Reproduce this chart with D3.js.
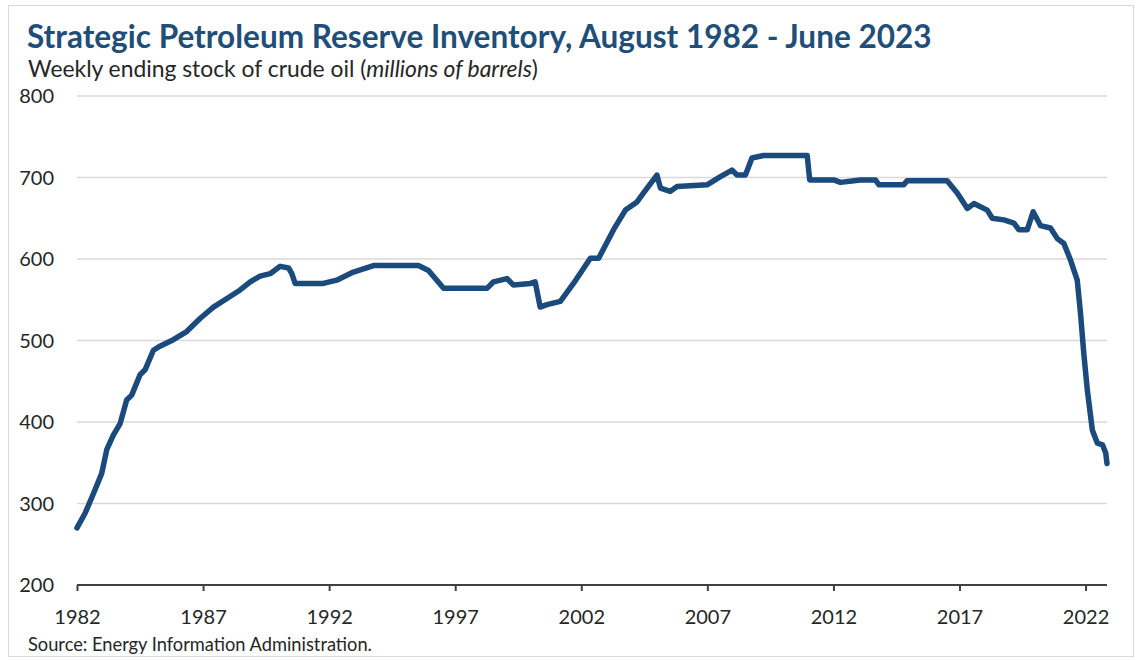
<!DOCTYPE html>
<html lang="en">
<head>
    <meta charset="UTF-8">
    <title>Strategic Petroleum Reserve Inventory</title>
    <script src="https://d3js.org/d3.v7.min.js"></script>
    <style>
        body { margin: 0; background: #fff; font-family: Lato, "Open Sans", sans-serif; }
        .grid line { stroke: #d9d9d9; stroke-width: 1.5; }
        .xaxis path, .xaxis line { stroke: #404040; stroke-width: 2; }
        .xaxis text, .ylab { fill: #262626; font-size: 20px; }
    </style>
</head>
<body>

<div id="chart"></div>

<script>
// decimal year of each reading
var years = [1982.60, 1982.92, 1983.25, 1983.58, 1983.78, 1984.04, 1984.31, 1984.57, 1984.77, 1985.10,
    1985.30, 1985.63, 1985.89, 1986.42, 1986.95, 1987.48, 1988.01, 1988.67, 1989.07, 1989.47,
    1989.86, 1990.26, 1990.66, 1990.99, 1991.12, 1991.25, 1992.37, 1992.90, 1993.56, 1994.36,
    1996.14, 1996.54, 1997.14, 1998.86, 1999.12, 1999.65, 1999.91, 2000.58, 2000.77, 2000.97,
    2001.24, 2001.77, 2002.29, 2002.96, 2003.29, 2003.88, 2004.35, 2004.81, 2005.07, 2005.60,
    2005.74, 2006.13, 2006.40, 2007.59, 2008.12, 2008.58, 2008.78, 2009.11, 2009.37, 2009.83,
    2011.56, 2011.66, 2012.61, 2012.88, 2013.67, 2014.27, 2014.40, 2015.39, 2015.52, 2017.11,
    2017.51, 2017.91, 2018.17, 2018.70, 2018.90, 2019.36, 2019.76, 2019.95, 2020.29, 2020.52,
    2020.81, 2021.21, 2021.48, 2021.74, 2022.00, 2022.27, 2022.40, 2022.53, 2022.67, 2022.87,
    2023.07, 2023.27, 2023.40, 2023.45];

// millions of barrels
var stock = [270, 288, 312, 337, 366, 384, 398, 427, 433, 458,
    464, 488, 493, 501, 511, 527, 541, 554, 562, 572,
    579, 582, 591, 589, 582, 570, 570, 574, 584, 592,
    592, 586, 564, 564, 572, 576, 568, 570, 572, 541,
    544, 548, 570, 601, 601, 636, 660, 670, 681, 703,
    687, 683, 689, 691, 701, 709, 703, 703, 724, 727,
    727, 697, 697, 694, 697, 697, 691, 691, 696, 696,
    681, 662, 668, 660, 650, 648, 644, 636, 636, 658,
    641, 638, 625, 619, 599, 574, 533, 484, 439, 390,
    374, 372, 362, 349];

var tickYears = [1982, 1987, 1992, 1997, 2002, 2007, 2012, 2017, 2022];
var yTicks = [200, 300, 400, 500, 600, 700, 800];

var title = "Strategic Petroleum Reserve Inventory, August 1982 - June 2023";
var source = "Source: Energy Information Administration.";

var W = 1140, H = 660;
var svg = d3.select("#chart").append("svg")
    .attr("width", W)
    .attr("height", H);

// outer frame
svg.append("rect")
    .attr("x", 8.5).attr("y", 5.5)
    .attr("width", 1125).attr("height", 651)
    .attr("fill", "#fff")
    .attr("stroke", "#d9d9d9");

var x = d3.scaleLinear()
    .domain([years[0], years[years.length - 1]])
    .range([77, 1107]);

var y = d3.scaleLinear()
    .domain([200, 800])
    .range([585, 96]);

// fit a text to a measured width
function fitWidth(sel, target) {
    var size = parseFloat(sel.style("font-size"));
    var len = sel.node().getComputedTextLength();
    sel.style("font-size", (size * target / len) + "px");
}

var t = svg.append("text")
    .attr("x", 27).attr("y", 48)
    .style("font-size", "28px")
    .style("font-weight", "bold")
    .style("fill", "#1f4e79")
    .text(title);
fitWidth(t, 905);

var sub = svg.append("text")
    .attr("x", 28).attr("y", 77)
    .style("font-size", "17px")
    .style("fill", "#262626");
sub.append("tspan").text("Weekly ending stock of crude oil (");
sub.append("tspan").style("font-style", "italic").text("millions of barrels");
sub.append("tspan").text(")");
fitWidth(sub, 510);

// gridlines
svg.append("g")
    .attr("class", "grid")
    .selectAll("line")
    .data(yTicks.slice(1))
    .enter().append("line")
    .attr("x1", 77).attr("x2", 1107)
    .attr("y1", function(d) { return y(d); })
    .attr("y2", function(d) { return y(d); });

svg.append("g")
    .selectAll("text")
    .data(yTicks)
    .enter().append("text")
    .attr("class", "ylab")
    .attr("x", 54)
    .attr("y", function(d) { return y(d) + 7; })
    .style("text-anchor", "end")
    .text(function(d) { return d; });

// x axis: Excel-style ticks every 5 years from the first reading
var xAxis = d3.axisBottom(x)
    .tickValues(tickYears.map(function(d) { return d + (years[0] - 1982); }))
    .tickFormat(function(d) { return Math.floor(d); })
    .tickSize(6)
    .tickSizeOuter(0)
    .tickPadding(19);

var gx = svg.append("g")
    .attr("class", "xaxis")
    .attr("transform", "translate(0," + y(200) + ")")
    .call(xAxis);
gx.select(".domain").attr("d", "M77,0H1107");
gx.selectAll("text").style("font-family", "Lato, 'Open Sans', sans-serif");

var line = d3.line()
    .x(function(d, i) { return x(years[i]); })
    .y(function(d) { return y(d); })
    .curve(d3.curveLinear);

svg.append("path")
    .datum(stock)
    .attr("fill", "none")
    .attr("stroke", "#1b4a7c")
    .attr("stroke-width", 5.5)
    .attr("stroke-linejoin", "round")
    .attr("stroke-linecap", "round")
    .attr("d", line);

var src = svg.append("text")
    .attr("x", 28).attr("y", 651)
    .style("font-size", "15px")
    .style("fill", "#262626")
    .text(source);
fitWidth(src, 344);
</script>

</body>
</html>
